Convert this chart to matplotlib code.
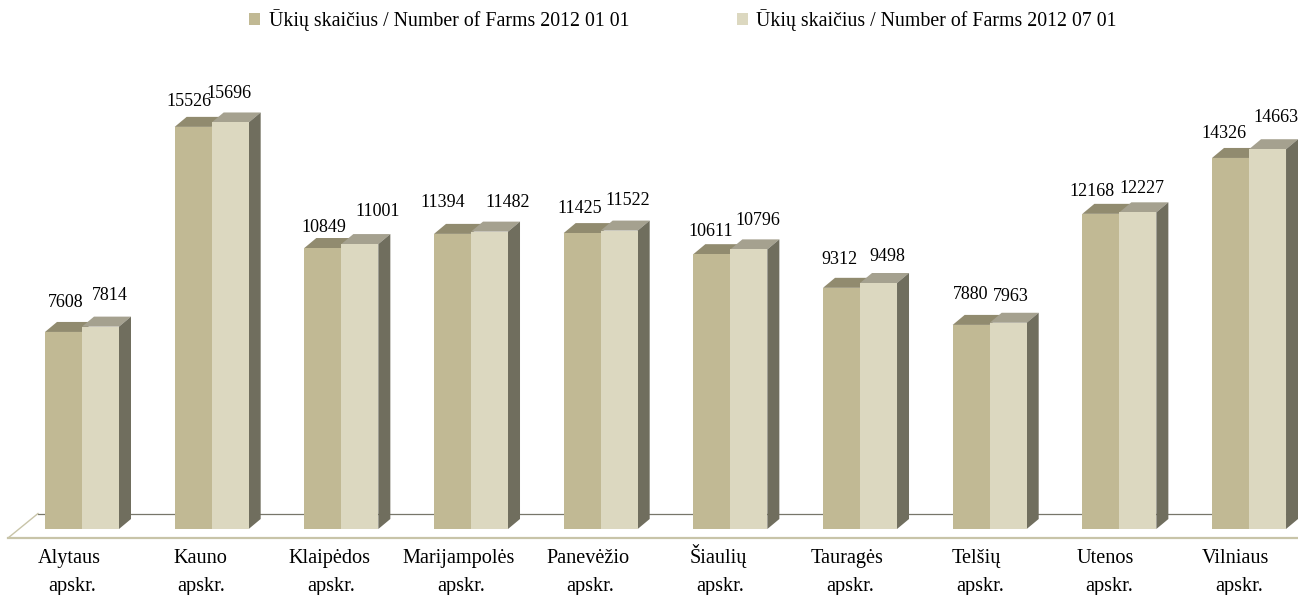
import numpy as np
import matplotlib
matplotlib.use("Agg")
import matplotlib.pyplot as plt
from matplotlib.patches import Polygon

plt.rcParams['font.family'] = ['Liberation Serif', 'DejaVu Serif']

# data
counties = ["Alytaus", "Kauno", "Klaipėdos", "Marijampolės", "Panevėžio",
            "Šiaulių", "Tauragės", "Telšių", "Utenos", "Vilniaus"]
farms_jan = [7608, 15526, 10849, 11394, 11425, 10611, 9312, 7880, 12168, 14326]
farms_jul = [7814, 15696, 11001, 11482, 11522, 10796, 9498, 7963, 12227, 14663]
series_names = ["Ūkių skaičius / Number of Farms 2012 01 01",
                "Ūkių skaičius / Number of Farms 2012 07 01"]

# label shifts from the bar top centre, in pixels, the original has them placed by hand
jan_dx = [2.5, -4, 1, -9.5, -2, -1, -2.5, -1, -9, -6.5]
jan_dy = [29.5, 25.5, 20.5, 31.5, 24.5, 22.5, 28.5, 30.5, 22.5, 24.5]
jul_dx = [9.5, -1, 18, 18.5, 9, 9, 8.5, 3, 4, 8.5]
jul_dy = [31.5, 28.5, 32.5, 29.5, 30.5, 28.5, 26.5, 26.5, 23.5, 31.5]
name_dx = [-13, -11, -12, -12, -13, -12, -13, -13, -14, -14]

W, H = 1298, 595
step = 129.67
base_px = 529
per_unit = 0.0259

fig = plt.figure(figsize=(W / 100, H / 100), dpi=100)
ax = fig.add_axes([0, 0, 1, 1])
ax.set_xlim(-82 / step, (W - 82) / step)
ax.set_ylim(-(H - base_px) / per_unit, base_px / per_unit)
ax.axis("off")

bar_w = 37 / step
depth_x = 12 / step
depth_y = 10 / per_unit

front_cols = ["#c1b994", "#dcd8c0"]
top_cols = ["#918b6f", "#a5a18f"]
side_col = "#706e5e"

# floor
floor_back = 15.5 / per_unit
floor_front = -9 / per_unit
x_left = -74 / step
x_back = -44 / step
x_right = (W - 82) / step
ax.plot([x_back, x_right], [floor_back, floor_back], color="#77766a", lw=0.9, zorder=1)
ax.plot([x_left, x_back], [floor_front, floor_back], color="#c8c4a8", lw=1, zorder=1)
ax.plot([x_left, x_right], [floor_front, floor_front], color="#c8c4a8", lw=1.6, zorder=1)

x = np.arange(len(counties))
handles = []
for k, vals in enumerate([farms_jan, farms_jul]):
    left = x - bar_w + k * bar_w
    b = ax.bar(left, vals, width=bar_w, align="edge", color=front_cols[k],
               zorder=4 + k, label=series_names[k])
    handles.append(b)
    for xl, v in zip(left, vals):
        top = [(xl, v), (xl + depth_x, v + depth_y),
               (xl + bar_w + depth_x, v + depth_y), (xl + bar_w, v)]
        ax.add_patch(Polygon(top, closed=True, fc=top_cols[k], ec="none", zorder=2 + k))
        if k == 1:
            side = [(xl + bar_w, 0), (xl + bar_w + depth_x, depth_y),
                    (xl + bar_w + depth_x, v + depth_y), (xl + bar_w, v)]
            ax.add_patch(Polygon(side, closed=True, fc=side_col, ec="none", zorder=3))

# value labels
for i in x:
    ax.annotate(str(farms_jan[i]), (i - bar_w / 2, farms_jan[i]),
                xytext=(jan_dx[i] * 0.72, jan_dy[i] * 0.72), textcoords="offset points",
                ha="center", va="center", fontsize=13, color="black", zorder=8)
    ax.annotate(str(farms_jul[i]), (i + bar_w / 2, farms_jul[i]),
                xytext=(jul_dx[i] * 0.72, jul_dy[i] * 0.72), textcoords="offset points",
                ha="center", va="center", fontsize=13, color="black", zorder=8)

# category labels, two lines
for i, name in zip(x, counties):
    ax.annotate(name, (i, 0), xytext=(name_dx[i] * 0.72, -34 * 0.72), textcoords="offset points",
                ha="center", va="baseline", fontsize=14.6, color="black")
    ax.annotate("apskr.", (i, 0), xytext=(-10 * 0.72, -62 * 0.72), textcoords="offset points",
                ha="center", va="baseline", fontsize=14.6, color="black")

fig.legend(handles=handles, labels=series_names, ncol=2, frameon=False, fontsize=14.3,
           loc="center", bbox_to_anchor=(683 / W, 1 - 20 / H),
           handlelength=0.55, handleheight=0.55, handletextpad=0.45,
           columnspacing=5.4, borderpad=0, borderaxespad=0)

fig.savefig("out.png", dpi=100)
